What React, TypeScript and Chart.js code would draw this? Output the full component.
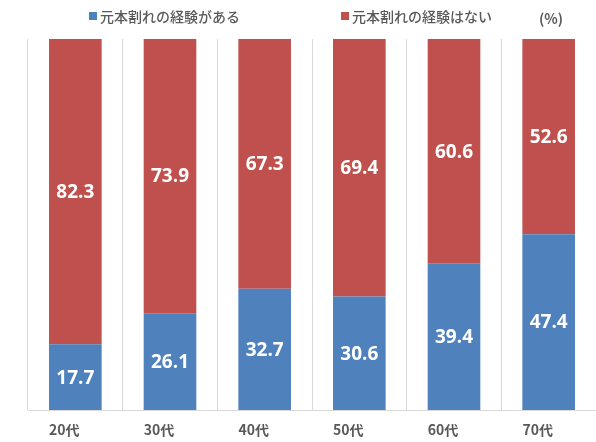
import React, { useEffect, useRef } from "react";
import { Chart, registerables } from "chart.js";

Chart.register(...registerables);

const categories = ["20代", "30代", "40代", "50代", "60代", "70代"];
const seriesLabels = ["元本割れの経験がある", "元本割れの経験はない"];
const experienced = [17.7, 26.1, 32.7, 30.6, 39.4, 47.4];
const notExperienced = [82.3, 73.9, 67.3, 69.4, 60.6, 52.6];
const unitLabel = "(%)";

const COLORS = ["#4F81BD", "#C0504D"];
const TEXT_GRAY = "#595959";
const JP_FONT = '"Noto Sans CJK JP", "Noto Sans", sans-serif';

const overlayPlugin = {
  id: "overlay",
  afterDatasetsDraw(chart: any) {
    const ctx = chart.ctx;
    ctx.save();
    // data labels
    ctx.fillStyle = "#FFFFFF";
    ctx.font = 'bold 19px "Open Sans", sans-serif';
    ctx.textAlign = "center";
    ctx.textBaseline = "middle";
    chart.data.datasets.forEach((ds: any, di: number) => {
      const meta = chart.getDatasetMeta(di);
      meta.data.forEach((bar: any, i: number) => {
        const v = ds.data[i];
        const cy = (bar.y + bar.base) / 2;
        ctx.fillText(v.toFixed(1), bar.x, cy + 1);
      });
    });
    // legend
    ctx.font = "500 14px " + JP_FONT;
    ctx.textAlign = "left";
    ctx.textBaseline = "middle";
    const legendX = [89, 341];
    chart.data.datasets.forEach((ds: any, di: number) => {
      const x = legendX[di];
      ctx.fillStyle = ds.backgroundColor;
      ctx.fillRect(x, 12, 8, 8);
      ctx.fillStyle = TEXT_GRAY;
      ctx.fillText(ds.label, x + 11, 17);
    });
    // unit
    ctx.font = "bold 14px " + JP_FONT;
    ctx.fillStyle = TEXT_GRAY;
    ctx.fillText(unitLabel, 539, 19);
    ctx.restore();
  },
};

export default function App() {
  const canvasRef = useRef<HTMLCanvasElement | null>(null);

  useEffect(() => {
    document.body.style.margin = "0";
    const chart = new Chart(canvasRef.current as HTMLCanvasElement, {
      type: "bar",
      data: {
        labels: categories,
        datasets: [
          {
            label: seriesLabels[0],
            data: experienced,
            backgroundColor: COLORS[0],
            borderWidth: 0,
            categoryPercentage: 1,
            barPercentage: 0.556,
          },
          {
            label: seriesLabels[1],
            data: notExperienced,
            backgroundColor: COLORS[1],
            borderWidth: 0,
            categoryPercentage: 1,
            barPercentage: 0.556,
          },
        ],
      },
      options: {
        animation: false,
        responsive: false,
        maintainAspectRatio: false,
        layout: { padding: { top: 39, left: 28, right: 0, bottom: 0 } },
        plugins: {
          legend: { display: false },
          tooltip: { enabled: false },
        },
        scales: {
          x: {
            stacked: true,
            afterFit(scale: any) {
              scale.height = 32;
            },
            grid: {
              display: true,
              offset: true,
              color: "#D9D9D9",
              drawTicks: false,
              lineWidth: 1,
            },
            border: { display: true, color: "#D9D9D9" },
            ticks: {
              color: TEXT_GRAY,
              font: { family: JP_FONT, size: 14, weight: "bold" },
              padding: 11,
              labelOffset: -11,
            },
          },
          y: {
            stacked: true,
            display: false,
            min: 0,
            max: 100,
          },
        },
      },
      plugins: [overlayPlugin],
    });
    return () => chart.destroy();
  }, []);

  return (
    <div style={{ position: "absolute", left: 0, top: 0, width: 596, height: 442, background: "#fff" }}>
      <canvas ref={canvasRef} width={596} height={442} style={{ width: 596, height: 442 }} />
    </div>
  );
}
